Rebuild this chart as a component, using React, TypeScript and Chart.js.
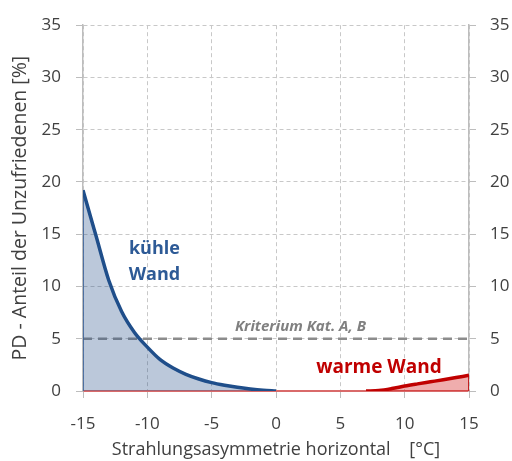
import React, { useEffect, useRef } from 'react';
import { Chart, registerables } from 'chart.js';

Chart.register(...registerables);

// ---- data ----
const coolX = [-15, -14, -13, -12, -11, -10, -9, -8, -7, -6, -5, -4, -3, -2, -1, 0];
const coolPD = [19.2, 14.9, 10.6, 7.6, 5.6, 4.2, 3.0, 2.2, 1.6, 1.15, 0.8, 0.55, 0.35, 0.2, 0.08, 0];
const warmX = [7, 8, 9, 10, 11, 12, 13, 14, 15];
const warmPD = [0, 0.05, 0.23, 0.47, 0.68, 0.88, 1.08, 1.29, 1.5];
const criterionPD = 5;
const xRange = [-15, 15];
const yRange = [0, 35];
const tickStep = 5;

const coolLabel = ['kühle', 'Wand'];
const warmLabel = 'warme Wand';
const criterionLabel = 'Kriterium Kat. A, B';
const xTitle = 'Strahlungsasymmetrie horizontal    [°C]';
const yTitle = 'PD - Anteil der Unzufriedenen [%]';

const FONT = '"Open Sans", "Noto Sans", sans-serif';
const TEXT = '#404040';
const GRID = '#c8c8c8';
const AXIS = '#bdbdbd';

export default function App() {
  const ref = useRef<HTMLCanvasElement | null>(null);

  useEffect(() => {
    if (!ref.current) return;
    const pts = (xs: number[], ys: number[]) => xs.map((x, i) => ({ x, y: ys[i] }));

    const labelsPlugin = {
      id: 'labels',
      afterDatasetsDraw(chart: any) {
        const { ctx, scales } = chart;
        const sx = scales.x, sy = scales.y;
        ctx.save();
        ctx.textAlign = 'center';
        ctx.textBaseline = 'middle';
        ctx.fillStyle = '#2d5a96';
        ctx.font = `bold 18px ${FONT}`;
        ctx.fillText(coolLabel[0], sx.getPixelForValue(-9.45), sy.getPixelForValue(13.6));
        ctx.fillText(coolLabel[1], sx.getPixelForValue(-9.45), sy.getPixelForValue(11.1));
        ctx.fillStyle = '#c00000';
        ctx.font = `bold 19px ${FONT}`;
        ctx.fillText(warmLabel, sx.getPixelForValue(8.0), sy.getPixelForValue(2.2));
        ctx.fillStyle = '#808080';
        ctx.font = `italic bold 15px ${FONT}`;
        ctx.fillText(criterionLabel, sx.getPixelForValue(1.9), sy.getPixelForValue(6.15));
        ctx.restore();
      },
    };

    const chart = new Chart(ref.current, {
      type: 'line',
      data: {
        datasets: [
          {
            label: 'kühle Wand',
            data: pts(coolX, coolPD),
            borderColor: '#1f4e8a',
            borderWidth: 3.5,
            backgroundColor: 'rgba(45,85,140,0.32)',
            fill: 'origin',
            pointRadius: 0,
            cubicInterpolationMode: 'monotone',
          },
          {
            label: 'kühle edge',
            data: [{ x: coolX[0], y: 0 }, { x: coolX[0], y: coolPD[0] }],
            borderColor: '#3a63a0',
            borderWidth: 1.5,
            pointRadius: 0,
            fill: false,
          },
          {
            label: 'warme Wand',
            data: pts(warmX, warmPD),
            borderColor: '#c00000',
            borderWidth: 3.5,
            backgroundColor: 'rgba(205,0,0,0.32)',
            fill: 'origin',
            pointRadius: 0,
            cubicInterpolationMode: 'monotone',
          },
          {
            label: 'warme edge',
            data: [{ x: warmX[warmX.length - 1], y: 0 }, { x: warmX[warmX.length - 1], y: warmPD[warmPD.length - 1] }],
            borderColor: '#c00000',
            borderWidth: 1.5,
            pointRadius: 0,
            fill: false,
          },
          {
            label: 'Kriterium',
            data: [{ x: xRange[0], y: criterionPD }, { x: xRange[1], y: criterionPD }],
            borderColor: '#8c8c8c',
            borderWidth: 2.5,
            borderDash: [9, 6],
            pointRadius: 0,
            fill: false,
          },
        ],
      },
      options: {
        animation: false,
        responsive: false,
        devicePixelRatio: 1,
        layout: { padding: { top: 19, right: 0, bottom: 0, left: 0 } },
        plugins: { legend: { display: false }, tooltip: { enabled: false } },
        scales: {
          x: {
            type: 'linear',
            position: 'bottom',
            min: xRange[0],
            max: xRange[1],
            ticks: { stepSize: tickStep, color: TEXT, font: { family: FONT, size: 17 }, padding: 16, maxRotation: 0 },
            grid: { color: GRID, tickColor: AXIS, tickLength: 7, tickBorderDash: [] },
            border: { color: '#d96a6a', width: 2, dash: [4, 3] },
            title: { display: true, text: xTitle, color: TEXT, font: { family: FONT, size: 18 }, padding: { top: 0, bottom: 0 } },
            afterFit: (s: any) => { s.height = 70; },
          },
          y: {
            type: 'linear',
            position: 'left',
            min: yRange[0],
            max: yRange[1],
            ticks: { stepSize: tickStep, color: TEXT, font: { family: FONT, size: 17 }, padding: 15 },
            grid: { color: GRID, tickColor: AXIS, tickLength: 7, tickBorderDash: [] },
            border: { color: AXIS, width: 1.5, dash: [4, 3] },
            title: { display: true, text: yTitle, color: TEXT, font: { family: FONT, size: 19.5 }, padding: { top: 9, bottom: 0 } },
            afterFit: (s: any) => { s.width = 83; },
          },
          y2: {
            type: 'linear',
            position: 'right',
            min: yRange[0],
            max: yRange[1],
            ticks: { stepSize: tickStep, color: TEXT, font: { family: FONT, size: 17 }, padding: 14 },
            grid: { drawOnChartArea: false, color: GRID, tickColor: AXIS, tickLength: 7 },
            border: { color: AXIS, width: 1.5 },
            afterFit: (s: any) => { s.width = 43; },
          },
        },
      },
      plugins: [labelsPlugin],
    } as any);

    return () => chart.destroy();
  }, []);

  return (
    <div style={{ position: 'fixed', left: 0, top: 0, width: 512, height: 461, background: '#fff' }}>
      <canvas ref={ref} width={512} height={461} style={{ width: 512, height: 461, display: 'block' }} />
    </div>
  );
}
